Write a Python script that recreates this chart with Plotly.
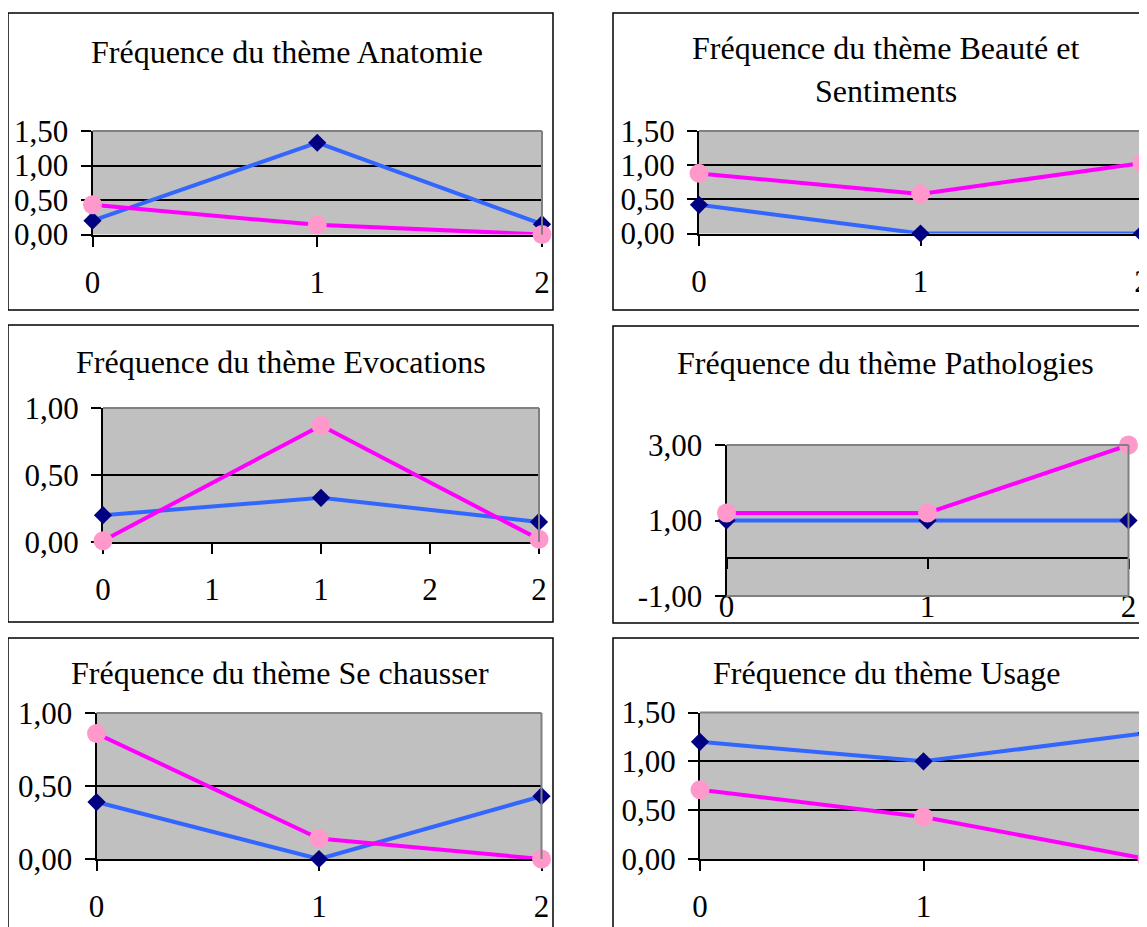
import plotly.graph_objects as go

# page body has an 8px default margin: the figure is offset by OFF px
OFF = 8
W, H = 1147, 927

# ---------------- data ----------------
x_values = [0, 1, 2]

titles = [
    ["Fréquence du thème Anatomie"],
    ["Fréquence du thème Beauté et", "Sentiments"],
    ["Fréquence du thème Evocations"],
    ["Fréquence du thème Pathologies"],
    ["Fréquence du thème Se chausser"],
    ["Fréquence du thème Usage"],
]

anatomie_bleu = [0.20, 1.33, 0.15]
anatomie_rose = [0.43, 0.14, 0.00]
beaute_bleu = [0.42, 0.00, 0.00]
beaute_rose = [0.88, 0.58, 1.03]
evocations_bleu = [0.20, 0.33, 0.15]
evocations_rose = [0.01, 0.87, 0.02]
pathologies_bleu = [1.00, 1.00, 1.00]
pathologies_rose = [1.20, 1.20, 3.00]
sechausser_bleu = [0.39, 0.00, 0.43]
sechausser_rose = [0.86, 0.14, 0.00]
usage_bleu = [1.20, 1.00, 1.29]
usage_rose = [0.71, 0.43, 0.00]

xticks_std = [0, 1, 2]
xlabels_std = ["0", "1", "2"]
xticks_evoc = [0, 0.5, 1, 1.5, 2]
xlabels_evoc = ["0", "1", "1", "2", "2"]

yticks_15 = [0, 0.5, 1, 1.5]
ylabels_15 = ["0,00", "0,50", "1,00", "1,50"]
yticks_10 = [0, 0.5, 1]
ylabels_10 = ["0,00", "0,50", "1,00"]
yticks_path = [-1, 1, 3]
ylabels_path = ["-1,00", "1,00", "3,00"]

# ---------------- layout geometry (pixels in the 1147x927 window) ----------------
series = [
    (anatomie_bleu, anatomie_rose),
    (beaute_bleu, beaute_rose),
    (evocations_bleu, evocations_rose),
    (pathologies_bleu, pathologies_rose),
    (sechausser_bleu, sechausser_rose),
    (usage_bleu, usage_rose),
]
yaxes_spec = [
    ([0, 1.5], yticks_15, ylabels_15),
    ([0, 1.5], yticks_15, ylabels_15),
    ([0, 1.0], yticks_10, ylabels_10),
    ([-1, 3], yticks_path, ylabels_path),
    ([0, 1.0], yticks_10, ylabels_10),
    ([0, 1.5], yticks_15, ylabels_15),
]
xaxes_spec = [
    (xticks_std, xlabels_std),
    (xticks_std, xlabels_std),
    (xticks_evoc, xlabels_evoc),
    (xticks_std, xlabels_std),
    (xticks_std, xlabels_std),
    (xticks_std, xlabels_std),
]
boxes = [(8, 13, 553, 310), (613, 13, 1158, 310),
         (8, 325, 553, 622), (613, 326, 1158, 623),
         (8, 638, 553, 935), (613, 638, 1158, 935)]
plots = [(92.5, 131, 542, 234.5), (699, 131, 1142, 233.5),
         (103, 408, 539, 542), (726.5, 445, 1128.5, 596),
         (96.5, 713, 541.5, 859), (700, 712.5, 1147, 859)]
title_pos = [(287, 52), (886, 48), (281, 362), (885.5, 363), (280, 673), (886, 673)]
TITLE_LINE = 43


def fx(p):
    return (p - OFF) / W


def fy(p):
    return 1 - (p - OFF) / H


FONT = "Liberation Serif"
FS_TITLE = 32
FS_TICK = 31
BLUE_LINE = "#3366FF"
BLUE_MARK = "#000080"
PINK_LINE = "#FF00FF"
PINK_MARK = "#FF99CC"
GRAY_BG = "#C0C0C0"
GRAY_BORDER = "#808080"

fig = go.Figure()
layout = dict(
    width=W, height=H, margin=dict(l=0, r=0, t=0, b=0, autoexpand=False),
    paper_bgcolor="white", plot_bgcolor=GRAY_BG, showlegend=False,
    font=dict(family=FONT, size=FS_TICK, color="black"),
)
shapes = []
annotations = []

for i in range(6):
    n = i + 1
    sfx = "" if n == 1 else str(n)
    bleu, rose = series[i]
    yr, ytv, ytt = yaxes_spec[i]
    xtv, xtt = xaxes_spec[i]
    px0, pyt, px1, pyb = plots[i]

    fig.add_trace(go.Scatter(
        x=x_values, y=bleu, mode="lines+markers", xaxis="x" + sfx, yaxis="y" + sfx,
        line=dict(color=BLUE_LINE, width=4),
        marker=dict(symbol="diamond", size=14, color=BLUE_MARK),
        cliponaxis=False, hoverinfo="skip"))
    pink_x = "x7" if n == 4 else "x" + sfx
    fig.add_trace(go.Scatter(
        x=x_values, y=rose, mode="lines+markers", xaxis=pink_x, yaxis="y" + sfx,
        line=dict(color=PINK_LINE, width=4),
        marker=dict(symbol="circle", size=19, color=PINK_MARK),
        cliponaxis=False, hoverinfo="skip"))

    xdom = [fx(px0), fx(px1)]
    ydom = [fy(pyb), fy(pyt)]

    xa = dict(domain=xdom, anchor="y" + sfx, range=[0, 2], tickmode="array",
              tickvals=xtv, ticktext=xtt, showgrid=False, zeroline=False,
              showline=True, linecolor="black", linewidth=2,
              ticks="outside", ticklen=10, tickwidth=1.5, tickcolor="black",
              ticklabelstandoff=9, tickfont=dict(family=FONT, size=FS_TICK, color="black"),
              layer="below traces", fixedrange=True)
    ya = dict(domain=ydom, anchor="x" + sfx, range=yr, tickmode="array",
              tickvals=ytv, ticktext=ytt, showgrid=True, gridcolor="black",
              gridwidth=1.5, zeroline=False, showline=True, linecolor="black",
              linewidth=2, ticks="outside", ticklen=10, tickwidth=1.5,
              tickcolor="black", ticklabelstandoff=6,
              tickfont=dict(family=FONT, size=FS_TICK, color="black"),
              layer="below traces", fixedrange=True)
    if n == 4:
        xa.update(showline=False, ticks="", ticklabelstandoff=-11)
        zero_pos = ydom[0] + (0 - yr[0]) / (yr[1] - yr[0]) * (ydom[1] - ydom[0])
        layout["xaxis7"] = dict(overlaying="x4", anchor="free", position=zero_pos,
                                range=[0, 2], tickmode="array", tickvals=xtv,
                                showticklabels=False, showgrid=False, zeroline=False,
                                showline=True, linecolor="black", linewidth=2,
                                ticks="outside", ticklen=10, tickwidth=1.5,
                                tickcolor="black", layer="below traces", fixedrange=True)
    layout["xaxis" + sfx] = xa
    layout["yaxis" + sfx] = ya

    # plot-area grey border (top / right, bottom for pathologies)
    xr, yrf = "x" + sfx + " domain", "y" + sfx + " domain"
    border = [(0, 1, 1, 1), (1, 0, 1, 1)]
    if n == 4:
        border.append((0, 0, 1, 0))
    for (a0, b0, a1, b1) in border:
        shapes.append(dict(type="line", xref=xr, yref=yrf, x0=a0, y0=b0, x1=a1, y1=b1,
                           line=dict(color=GRAY_BORDER, width=2), layer="above"))

    # chart box
    bx0, by0, bx1, by1 = boxes[i]
    shapes.append(dict(type="rect", xref="paper", yref="paper",
                       x0=fx(bx0), x1=fx(bx1), y0=fy(by1), y1=fy(by0),
                       line=dict(color="black", width=1.5), fillcolor="rgba(0,0,0,0)",
                       layer="above"))

    # titles
    tx, ty = title_pos[i]
    for k, line in enumerate(titles[i]):
        annotations.append(dict(text=line, xref="paper", yref="paper",
                                x=fx(tx), y=fy(ty + k * TITLE_LINE),
                                xanchor="center", yanchor="middle", showarrow=False,
                                font=dict(family=FONT, size=FS_TITLE, color="black")))

layout["shapes"] = shapes
layout["annotations"] = annotations
fig.update_layout(**layout)
fig.write_html("out.html", config={"displayModeBar": False})
